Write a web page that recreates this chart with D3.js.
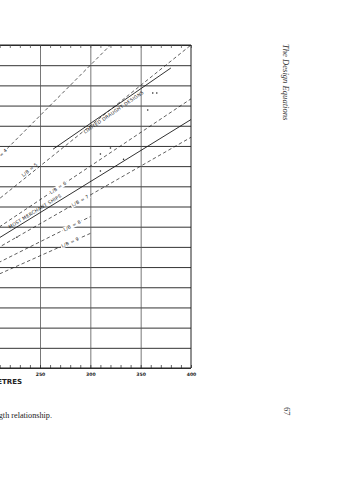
<!DOCTYPE html>
<html>
<head>
<meta charset="utf-8">
<script src="https://cdn.jsdelivr.net/npm/d3@7"></script>
<style>
  body { margin: 0; background: #fff; }
  svg { display: block; }
</style>
</head>
<body>
<div id="chart"></div>
<script>
// ship length (m) vs beam (m), lines of constant L/B
const lengthTicks = [250, 300, 350, 400];
const beamGrid = [0, 5, 10, 15, 20, 25, 30, 35, 40, 45, 50, 55, 60, 65, 70, 75, 80];
const ratios = [4, 5, 6, 6.5, 7, 8, 9];
const ratioEnds = [320, 400, 400, 400, 400, 300, 300];
const ratioLabels = ['L/B = 4', 'L/B = 5', 'L/B = 6', 'MOST MERCHANT SHIPS', 'L/B = 7', 'L/B = 8', 'L/B = 9'];
const limitedDraught = [[263, 54.2], [380, 74.3]];
const shipLength = [362, 366, 357, 320, 310, 333, 310, 227];
const shipBeam = [68.1, 68.1, 63.9, 54.5, 53.0, 51.7, 48.8, 32.4];

const W = 362, H = 480;
const svg = d3.select('#chart').append('svg').attr('width', W).attr('height', H);

// plot frame: left edge is off the page crop
const x = d3.scaleLinear().domain([250, 400]).range([40, 191]);
const y = d3.scaleLinear().domain([0, 80]).range([368, 45]);
const xLeft = x(150);

svg.append('clipPath').attr('id', 'plot')
  .append('rect').attr('x', xLeft).attr('y', y(80)).attr('width', x(400) - xLeft).attr('height', y(0) - y(80));

// horizontal grid
svg.append('g')
  .attr('transform', `translate(${x(400)},0)`)
  .call(d3.axisLeft(y).tickValues(beamGrid).tickSize(x(400) - xLeft).tickFormat(''))
  .call(g => g.select('.domain').remove())
  .call(g => g.selectAll('line').attr('stroke', '#333').attr('stroke-width', 1));

// vertical grid
svg.append('g')
  .attr('transform', `translate(0,${y(0)})`)
  .call(d3.axisTop(x).tickValues([150, 200, 250, 300, 350]).tickSize(y(0) - y(80)).tickFormat(''))
  .call(g => g.select('.domain').remove())
  .call(g => g.selectAll('line').attr('stroke', '#555').attr('stroke-width', 0.8));

// frame
svg.append('path')
  .attr('d', `M${xLeft},${y(80)}H${x(400)}V${y(0)}H${xLeft}`)
  .attr('fill', 'none').attr('stroke', '#222').attr('stroke-width', 1);

// minor ticks bottom and top
const minor = d3.range(150, 401, 10);
svg.append('g').attr('transform', `translate(0,${y(0)})`)
  .call(d3.axisTop(x).tickValues(minor).tickSize(3).tickFormat(''))
  .call(g => g.select('.domain').remove())
  .call(g => g.selectAll('line').attr('stroke', '#222').attr('stroke-width', 0.7));
svg.append('g').attr('transform', `translate(0,${y(80)})`)
  .call(d3.axisBottom(x).tickValues(minor).tickSize(3).tickFormat(''))
  .call(g => g.select('.domain').remove())
  .call(g => g.selectAll('line').attr('stroke', '#444').attr('stroke-width', 0.7));

// tick labels
svg.append('g').attr('transform', `translate(0,${y(0)})`)
  .call(d3.axisBottom(x).tickValues(lengthTicks).tickSize(0).tickPadding(5))
  .call(g => g.select('.domain').remove())
  .call(g => g.selectAll('text').attr('font-family', 'DejaVu Sans').attr('font-size', 4.6)
    .attr('font-weight', 'bold').attr('fill', '#222'));

svg.append('text')
  .attr('x', 22).attr('y', 384)
  .attr('text-anchor', 'end')
  .attr('font-family', 'DejaVu Sans').attr('font-size', 7).attr('font-weight', 'bold').attr('fill', '#222')
  .text('LENGTH IN METRES');

const plot = svg.append('g').attr('clip-path', 'url(#plot)');

// constant L/B lines
ratios.forEach((r, i) => {
  const L0 = 150, L1 = ratioEnds[i];
  plot.append('line')
    .attr('x1', x(L0)).attr('y1', y(L0 / r))
    .attr('x2', x(L1)).attr('y2', y(L1 / r))
    .attr('stroke', '#1a1a1a')
    .attr('stroke-width', r === 6.5 ? 0.9 : 0.7)
    .attr('stroke-dasharray', r === 6.5 ? null : '3.5,2.5');
});

// limited draught designs
plot.append('line')
  .attr('x1', x(limitedDraught[0][0])).attr('y1', y(limitedDraught[0][1]))
  .attr('x2', x(limitedDraught[1][0])).attr('y2', y(limitedDraught[1][1]))
  .attr('stroke', '#1a1a1a').attr('stroke-width', 0.9);

// scattered ships
plot.selectAll('.ship')
  .data(shipLength.map((d, i) => [d, shipBeam[i]]))
  .enter().append('circle')
  .attr('class', 'ship')
  .attr('cx', d => x(d[0])).attr('cy', d => y(d[1]))
  .attr('r', 0.8).attr('fill', '#222');

// labels along lines
function lineLabel(L, B, angle, text, dy, knock) {
  const g = plot.append('g')
    .attr('transform', `translate(${x(L)},${y(B)}) rotate(${angle})`);
  const t = g.append('text')
    .attr('text-anchor', 'middle').attr('dy', dy)
    .attr('font-family', 'DejaVu Sans').attr('font-size', 4.6)
    .attr('letter-spacing', 0.3).attr('fill', '#1a1a1a')
    .text(text);
  if (knock) {
    const b = t.node().getBBox();
    g.insert('rect', 'text')
      .attr('x', b.x - 1).attr('y', b.y).attr('width', b.width + 2).attr('height', b.height)
      .attr('fill', '#fff');
  }
}
function ratioAngle(r) {
  return Math.atan2(y(300 / r) - y(200 / r), x(300) - x(200)) * 180 / Math.PI;
}
const labelAt = [210, 242, 268, 247, 290, 282, 280];
const labelDy = [1.6, -2, 1.6, -2.2, 1.6, 1.6, 1.6];
ratios.forEach((r, i) => {
  lineLabel(labelAt[i], labelAt[i] / r, ratioAngle(r), ratioLabels[i], labelDy[i], labelDy[i] > 0);
});
const ldAngle = Math.atan2(y(limitedDraught[1][1]) - y(limitedDraught[0][1]),
  x(limitedDraught[1][0]) - x(limitedDraught[0][0])) * 180 / Math.PI;
const ldL = 321, ldB = limitedDraught[0][1] + (ldL - limitedDraught[0][0]) *
  (limitedDraught[1][1] - limitedDraught[0][1]) / (limitedDraught[1][0] - limitedDraught[0][0]);
lineLabel(ldL, ldB, ldAngle, 'LIMITED  DRAUGHT  DESIGNS', 5.5, false);

// page furniture
svg.append('text')
  .attr('x', 52).attr('y', 418).attr('text-anchor', 'end')
  .attr('font-family', 'Liberation Serif').attr('font-size', 8.2).attr('fill', '#222')
  .text('Fig. 3.5 Beam/length relationship.');

svg.append('text')
  .attr('transform', 'translate(283,44) rotate(90)')
  .attr('font-family', 'Liberation Serif').attr('font-style', 'italic')
  .attr('font-size', 8.6).attr('fill', '#333')
  .text('The Design Equations');

svg.append('text')
  .attr('transform', 'translate(284,407) rotate(90)')
  .attr('font-family', 'Liberation Serif').attr('font-size', 8.6).attr('fill', '#333')
  .text('67');
</script>
</body>
</html>
